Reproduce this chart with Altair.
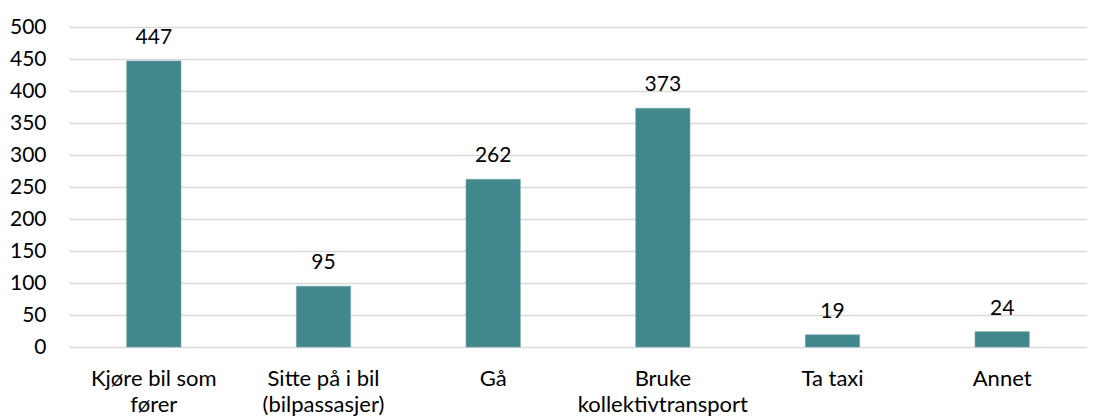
import altair as alt
import pandas as pd

categories = ["Kjøre bil som\nfører", "Sitte på i bil\n(bilpassasjer)", "Gå",
              "Bruke\nkollektivtransport", "Ta taxi", "Annet"]
values = [447, 95, 262, 373, 19, 24]
y_ticks = [0, 50, 100, 150, 200, 250, 300, 350, 400, 450, 500]

df = pd.DataFrame({"kategori": categories, "antall": values})

FONT = "Lato"
BAR = "#41878C"

x = alt.X("kategori:N", sort=categories, title=None,
          scale=alt.Scale(paddingInner=0.68, paddingOuter=0.34),
          axis=alt.Axis(labelAngle=0, labelExpr="split(datum.label, '\\n')",
                        labelFont=FONT, labelFontSize=22, labelColor="#000000",
                        labelLineHeight=26, labelPadding=21, labelBaseline="top",
                        labelOverlap=False, labelBound=False,
                        ticks=False, domain=False, grid=False))
y = alt.Y("antall:Q", title=None,
          scale=alt.Scale(domain=[0, 500], nice=False),
          axis=alt.Axis(values=y_ticks, labelFont=FONT, labelFontSize=21,
                        labelColor="#000000", labelPadding=23, labelOverlap=False,
                        ticks=False, domain=False,
                        gridColor="#D9D9D9", gridWidth=1.3))

base = alt.Chart(df).encode(x=x, y=y)
bars = base.mark_bar(color=BAR, stroke="#6FA6A9", strokeWidth=0.6)
text = base.mark_text(font=FONT, fontSize=21, color="#000000",
                      baseline="alphabetic", dy=-17).encode(text="antall:Q")

chart = (bars + text).properties(
    width=1018, height=320,
    autosize=alt.AutoSizeParams(type="none"),
    padding={"left": 61, "top": 19, "right": 0, "bottom": 70},
    background="white",
).configure_view(stroke=None)

chart.save("out.html", embed_options={"renderer": "svg", "actions": False})
